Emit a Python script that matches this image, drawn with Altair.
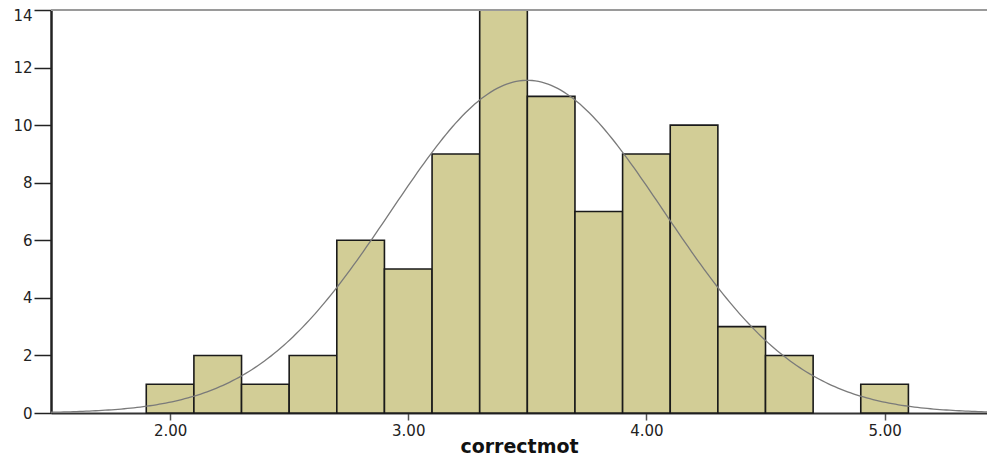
import altair as alt
import numpy as np
import pandas as pd

# Histogram bins (width 0.2) and frequencies
bin_start = [1.9, 2.1, 2.3, 2.5, 2.7, 2.9, 3.1, 3.3, 3.5, 3.7, 3.9, 4.1, 4.3, 4.5, 4.7, 4.9]
counts = [1, 2, 1, 2, 6, 5, 9, 14, 11, 7, 9, 10, 3, 2, 0, 1]
bin_width = 0.2

# Fitted normal curve parameters
curve_mean = 3.50
curve_sd = 0.573
n_total = sum(counts)

x_ticks = [2.0, 3.0, 4.0, 5.0]
y_ticks = [0, 2, 4, 6, 8, 10, 12, 14]

bars = pd.DataFrame({
    "start": bin_start,
    "end": [b + bin_width for b in bin_start],
    "count": counts,
})
bars = bars[bars["count"] > 0]

xs = np.linspace(1.5, 5.5, 300)
ys = n_total * bin_width / (curve_sd * np.sqrt(2 * np.pi)) * np.exp(-0.5 * ((xs - curve_mean) / curve_sd) ** 2)
curve = pd.DataFrame({"x": xs, "y": ys})

W, H = 936, 403
FONT = "DejaVu Sans"
xscale = alt.Scale(domain=[1.5, 5.43], nice=False, zero=False)
yscale = alt.Scale(domain=[0, 14], nice=False)

xaxis = alt.Axis(values=x_ticks, format=".2f", title="correctmot", grid=False,
                 tickSize=7, tickColor="#555", tickWidth=1.5, labelPadding=3,
                 labelFontSize=15, labelColor="#222", labelFont=FONT,
                 domainColor="#333", domainWidth=2,
                 titleFont=FONT, titleFontSize=19, titleFontWeight="bold",
                 titleColor="#111", titleBaseline="alphabetic", titleY=39)
yaxis = alt.Axis(values=y_ticks, format="d", title=None, grid=False,
                 tickSize=17, tickColor="#222", tickWidth=1.5, labelPadding=2,
                 labelFontSize=15, labelColor="#222", labelFont=FONT,
                 labelBaseline=alt.condition("datum.value == 14", alt.value("top"), alt.value("middle")),
                 labelOffset=alt.condition("datum.value == 14", alt.value(-2), alt.value(0)),
                 domainColor="#222", domainWidth=2.5)

hist = alt.Chart(bars).mark_rect(fill="#D2CD96", stroke="#1a1a1a", strokeWidth=1.6).encode(
    x=alt.X("start:Q", scale=xscale, axis=xaxis),
    x2="end:Q",
    y=alt.Y("count:Q", scale=yscale, axis=yaxis),
    y2=alt.datum(0),
)

line = alt.Chart(curve).mark_line(color="#7a7a7a", strokeWidth=1.3, clip=True).encode(
    x=alt.X("x:Q", scale=xscale),
    y=alt.Y("y:Q", scale=yscale),
)

top_border = alt.Chart(pd.DataFrame({"a": [0]})).mark_rule(color="#9a9a9a", strokeWidth=2).encode(
    x=alt.value(0), x2=alt.value(W), y=alt.value(0)
)

chart = alt.layer(hist, line, top_border).properties(
    width=W, height=H,
    autosize=alt.AutoSizeParams(type="none"),
    padding={"left": 43, "top": 2, "right": 0, "bottom": 42},
).configure_view(fill="#EFEFEF", stroke=None).configure(background="white")

chart.save("out.html", embed_options={"renderer": "svg", "actions": False})
